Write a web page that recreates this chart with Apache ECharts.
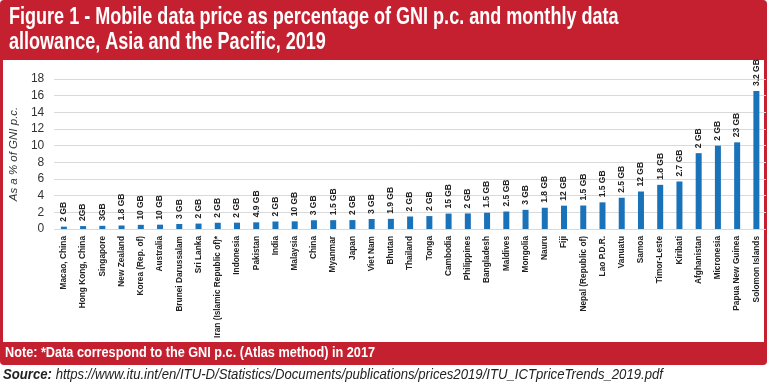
<!DOCTYPE html>
<html>
<head>
<meta charset="utf-8">
<script src="https://cdn.jsdelivr.net/npm/echarts@6/dist/echarts.min.js"></script>
<style>html,body{margin:0;padding:0;background:#fff;}#c{width:770px;height:384px;}</style>
</head>
<body>
<div id="c"></div>
<script>
var categories = ['Macao, China','Hong Kong, China','Singapore','New Zealand','Korea (Rep. of)','Australia','Brunei Darussalam','Sri Lanka','Iran (Islamic Republic of)*','Indonesia','Pakistan','India','Malaysia','China','Myanmar','Japan','Viet Nam','Bhutan','Thailand','Tonga','Cambodia','Philippines','Bangladesh','Maldives','Mongolia','Nauru','Fiji','Nepal (Republic of)','Lao P.D.R.','Vanuatu','Samoa','Timor-Leste','Kiribati','Afghanistan','Micronesia','Papua New Guinea','Solomon Islands'];
var priceShare = [0.28,0.35,0.38,0.42,0.5,0.52,0.6,0.65,0.75,0.76,0.8,0.9,0.92,1.05,1.06,1.07,1.2,1.22,1.5,1.55,1.85,1.87,1.95,2.1,2.3,2.55,2.8,2.82,3.2,3.75,4.5,5.3,5.7,9.1,10.0,10.4,16.55];
var allowance = ['2 GB','2GB','3GB','1.8 GB','10 GB','10 GB','3 GB','2 GB','2 GB','2 GB','4.9 GB','2 GB','10 GB','3 GB','1.5 GB','2 GB','3 GB','1.9 GB','2 GB','2 GB','15 GB','2 GB','1.5 GB','2.5 GB','3 GB','1.8 GB','12 GB','1.5 GB','1.5 GB','2.5 GB','12 GB','1.8 GB','2.7 GB','2 GB','2 GB','23 GB','3.2 GB'];
var yTicks = {min: 0, max: 18, interval: 2};
var titleLines = ['Figure 1 - Mobile data price as percentage of GNI p.c. and monthly data', 'allowance, Asia and the Pacific, 2019'];
var noteText = 'Note: *Data correspond to the GNI p.c. (Atlas method) in 2017';
var sourceLabel = 'Source:';
var sourceUrl = 'https://www.itu.int/en/ITU-D/Statistics/Documents/publications/prices2019/ITU_ICTpriceTrends_2019.pdf';

var FONT = '"Liberation Sans", Arial, sans-serif';
var RED = '#c4202f';

var mctx = document.createElement('canvas').getContext('2d');
function textW(font, s) { mctx.font = font; return mctx.measureText(s).width; }
var titleFont = 'bold 24px ' + FONT;
var titleScale = 382 / textW(titleFont, 'Figure 1 - Mobile data price as percentage of');
var noteFont = 'bold 14px ' + FONT;
var noteScale = 370 / textW(noteFont, noteText);
var srcFontB = 'italic bold 15px ' + FONT;
var srcFont = 'italic 15px ' + FONT;
var srcScale = 660 / (textW(srcFontB, sourceLabel) + textW(srcFont, ' ' + sourceUrl));

var chart = echarts.init(document.getElementById('c'), null, {renderer: 'canvas'});
chart.setOption({
  animation: false,
  backgroundColor: '#fff',
  graphic: [
    {type: 'rect', z: -10, silent: true, shape: {x: 0, y: 0, width: 767, height: 365, r: 4}, style: {fill: RED}},
    {type: 'rect', z: -9, silent: true, shape: {x: 3, y: 60, width: 761, height: 282}, style: {fill: '#fff'}},
    {type: 'text', z: 10, silent: true, x: 9, y: 5, scaleX: titleScale,
      style: {text: titleLines[0], fill: '#fff', font: titleFont, verticalAlign: 'top'}},
    {type: 'text', z: 10, silent: true, x: 9, y: 30, scaleX: titleScale,
      style: {text: titleLines[1], fill: '#fff', font: titleFont, verticalAlign: 'top'}},
    {type: 'text', z: 10, silent: true, x: 5, y: 353, scaleX: noteScale,
      style: {text: noteText, fill: '#fff', font: noteFont, verticalAlign: 'middle'}},
    {type: 'text', z: 10, silent: true, x: 3, y: 375, scaleX: srcScale,
      style: {text: '{b|' + sourceLabel + '} ' + sourceUrl, fill: '#222', font: srcFont, verticalAlign: 'middle',
        rich: {b: {fontWeight: 'bold', fontStyle: 'italic', fontSize: 15, fontFamily: FONT, fill: '#222'}}}}
  ],
  grid: {left: 48, width: 718, top: 79, height: 150, containLabel: false},
  xAxis: {
    type: 'category', data: categories,
    axisLine: {show: false}, axisTick: {show: false},
    axisLabel: {interval: 0, rotate: 90, margin: 7, color: '#222', fontFamily: FONT, fontWeight: 'bold', fontSize: 8.3}
  },
  yAxis: {
    type: 'value', min: yTicks.min, max: yTicks.max, interval: yTicks.interval,
    name: 'As a % of GNI p.c.', nameLocation: 'middle', nameGap: 29,
    nameTextStyle: {fontStyle: 'italic', fontSize: 11.5, color: '#333', fontFamily: FONT},
    axisLine: {show: false}, axisTick: {show: false},
    axisLabel: {color: '#333', fontSize: 12, margin: 10, fontFamily: FONT},
    splitLine: {lineStyle: {color: '#d9d9d9', width: 1}}
  },
  series: [{
    type: 'bar', data: priceShare, barWidth: 6,
    itemStyle: {color: '#1a72b9'},
    label: {
      show: true, position: 'top', distance: 5, rotate: 90, align: 'left', verticalAlign: 'middle',
      formatter: function (p) { return allowance[p.dataIndex]; },
      color: '#222', fontFamily: FONT, fontWeight: 'bold', fontSize: 8.5
    }
  }]
});
</script>
</body>
</html>
